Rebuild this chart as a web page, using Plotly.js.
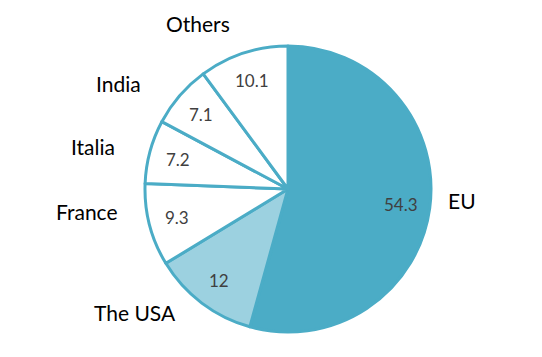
<!DOCTYPE html>
<html>
<head>
<meta charset="utf-8">
<script src="https://cdn.plot.ly/plotly-3.0.1.min.js"></script>
<style>html,body{margin:0;padding:0;background:#fff;}#chart{width:542px;height:357px;}</style>
</head>
<body>
<div id="chart"></div>
<script>
// Data
const categories = ["EU", "The USA", "France", "Italia", "India", "Others"];
const shares = [54.3, 12, 9.3, 7.2, 7.1, 10.1];
const valueLabels = ["54.3", "12", "9.3", "7.2", "7.1", "10.1"];

// Styling / layout
const W = 542, H = 357;
const cx = 288, cy = 189, R = 143;
const sliceColors = ["#4BACC6", "#9CD1E0", "#FFFFFF", "#FFFFFF", "#FFFFFF", "#FFFFFF"];
// outer category label centres (pixels)
const labelPos = [[462, 200], [135, 312], [86.5, 211], [92.5, 146], [118, 83], [198, 24]];

const total = shares.reduce((a, b) => a + b, 0);
const annotations = [];
let cum = 0;
shares.forEach((v, i) => {
  const mid = (cum + v / 2) / total * 2 * Math.PI;
  cum += v;
  const px = cx + 0.8 * R * Math.sin(mid);
  const py = cy - 0.8 * R * Math.cos(mid);
  annotations.push({
    x: px / W, y: 1 - py / H, xref: "paper", yref: "paper",
    text: valueLabels[i], showarrow: false,
    font: {family: "Lato, sans-serif", size: 17, color: "#404040"},
    xanchor: "center", yanchor: "middle"
  });
  annotations.push({
    x: labelPos[i][0] / W, y: 1 - labelPos[i][1] / H, xref: "paper", yref: "paper",
    text: categories[i], showarrow: false,
    font: {family: "Lato, sans-serif", size: 21, color: "#000000"},
    xanchor: "center", yanchor: "middle"
  });
});

const trace = {
  type: "pie",
  labels: categories,
  values: shares,
  sort: false,
  direction: "clockwise",
  rotation: 0,
  textinfo: "none",
  hoverinfo: "label+value",
  marker: {colors: sliceColors, line: {color: "#4BACC6", width: 3}},
  domain: {x: [(cx - R) / W, (cx + R) / W], y: [1 - (cy + R) / H, 1 - (cy - R) / H]}
};

const layout = {
  width: W, height: H,
  margin: {l: 0, r: 0, t: 0, b: 0},
  paper_bgcolor: "#ffffff",
  showlegend: false,
  annotations: annotations
};

Plotly.newPlot("chart", [trace], layout, {displayModeBar: false, staticPlot: true});
</script>
</body>
</html>
